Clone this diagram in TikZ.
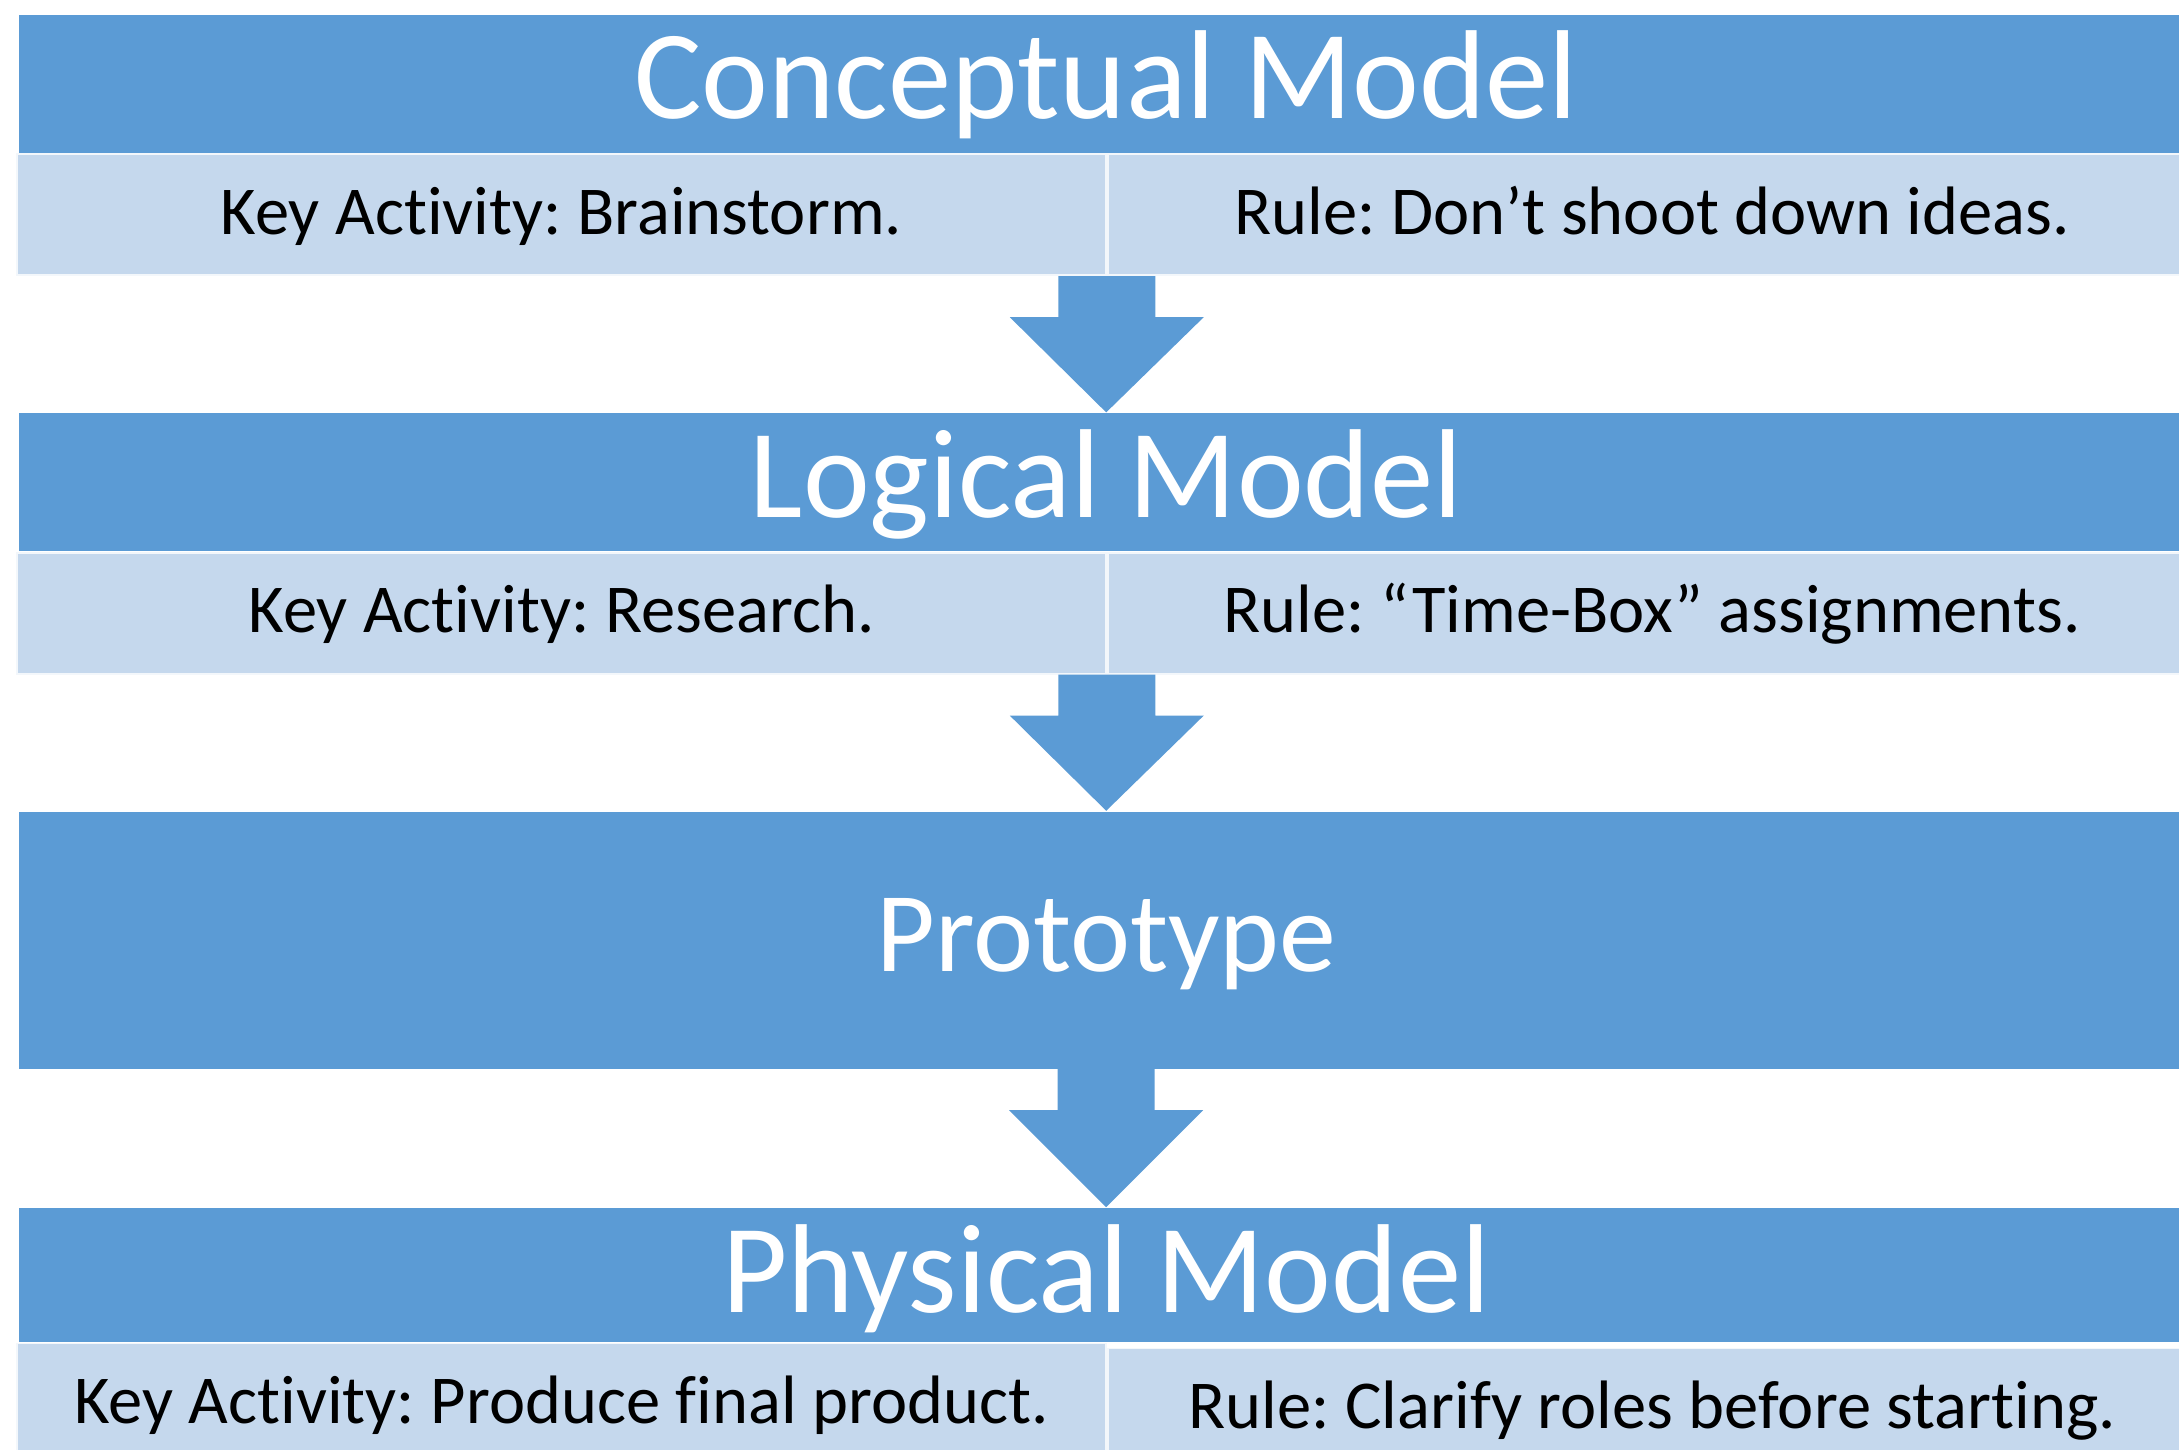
\documentclass[tikz,border=0pt]{standalone}
\usepackage{fontspec}
\setmainfont{Carlito}[Ligatures=NoCommon]
\usepackage{tikz}
\usetikzlibrary{calc}
\usetikzlibrary{positioning}
\definecolor{bandblue}{RGB}{91,155,213}
\definecolor{paleblue}{RGB}{197,216,237}
\tikzset{band/.style={rectangle,fill=bandblue,inner sep=0pt,anchor=north west,minimum width=21.75cm,minimum height=1.38cm,text=white,font=\fontsize{36}{43}\selectfont,text height=0.95cm,text depth=0.25cm}}
\tikzset{subband/.style={rectangle,fill=paleblue,draw=white!80!paleblue,line width=0.5pt,inner sep=0pt,anchor=north west,minimum width=10.89cm,minimum height=1.21cm,font=\fontsize{19.5}{23}\selectfont,text height=0.6cm,text depth=0.21cm}}
\newcommand{\flowarrow}[2]{%
\fill[bandblue] ($(#1)+(-0.485,0)$) -- ($(#1)+(0.485,0)$) -- ($(#1)+(0.485,-0.41)$) -- ($(#1)+(0.97,-0.41)$) -- (#2.north) -- ($(#1)+(-0.97,-0.41)$) -- ($(#1)+(-0.485,-0.41)$) -- cycle;}

\begin{document}
\frenchspacing
\begin{tikzpicture}
\useasboundingbox (0,0) rectangle (21.79,-14.5);
\clip (0,0) rectangle (21.79,-14.5);

% conceptual
\node[band] (conc) at (0.18,-0.14) {Conceptual Model};
\node[subband] (concL) at ($(conc.south west)+(-0.02,0)$) {Key Activity: Brainstorm.};
\node[subband] (concR) at (concL.north east) {Rule: Don’t shoot down ideas.};

% logical
\node[band] (logic) at ($(conc.south west)+(0,-2.59)$) {Logical Model};
\node[subband] (logicL) at ($(logic.south west)+(-0.02,0)$) {Key Activity: Research.};
\node[subband] (logicR) at (logicL.north east) {Rule: “Time-Box” assignments.};

% prototype
\node[band,minimum height=2.57cm,font=\fontsize{32.4}{39}\selectfont,text height=0.85cm,text depth=0.22cm] (proto) at ($(logic.south west)+(0,-2.59)$) {Prototype};

% physical
\node[band,minimum height=1.34cm,text depth=0.19cm] (phys) at ($(proto.south west)+(0,-1.38)$) {Physical Model};
\node[subband] (physL) at ($(phys.south west)+(-0.02,0)$) {Key Activity: Produce final product.};
\node[subband] (physR) at ($(physL.north east)+(0,-0.05)$) {Rule: Clarify roles before starting.};

\flowarrow{concL.south east}{logic}
\flowarrow{logicL.south east}{proto}
\flowarrow{proto.south}{phys}

\end{tikzpicture}
\end{document}
